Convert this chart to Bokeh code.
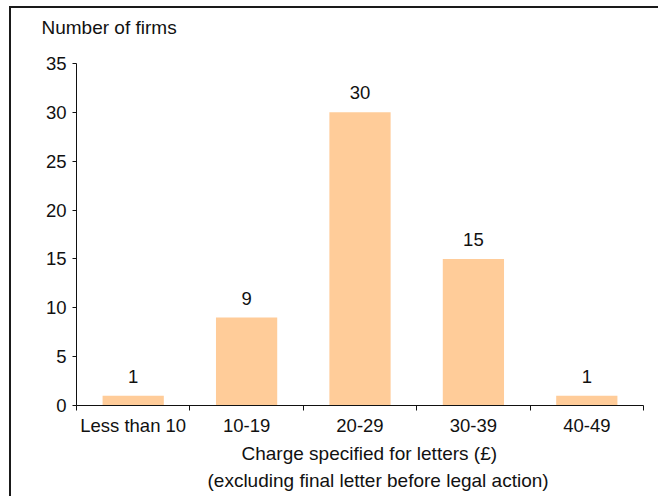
from bokeh.plotting import figure
from bokeh.models import Range1d, FixedTicker, LabelSet, Label, Title, ColumnDataSource
from bokeh.core.properties import value
from bokeh.embed import file_html
from bokeh.resources import INLINE

categories = ["Less than 10", "10-19", "20-29", "30-39", "40-49"]
firms = [1, 9, 30, 15, 1]
y_ticks = [0, 5, 10, 15, 20, 25, 30, 35]
y_title = "Number of firms"
x_title = ["Charge specified for letters (£)",
           "(excluding final letter before legal action)"]

FONT = "Liberation Sans"
SIZE = "18.5px"
TSIZE = "19px"
BAR = "#FFCC99"
INK = "#111111"

centers = [i + 0.5 for i in range(len(categories))]
bounds = list(range(len(categories) + 1))

src = ColumnDataSource(dict(x=centers, top=firms, label=[str(v) for v in firms]))

p = figure(width=649, height=490,
           x_range=Range1d(0, len(categories)),
           y_range=Range1d(y_ticks[0], y_ticks[-1]),
           output_backend="svg", toolbar_location=None,
           min_border_left=65, min_border_right=17,
           min_border_top=55, min_border_bottom=93)
p.styles = {"border-top": "2px solid #1a1a1a", "border-left": "2px solid #1a1a1a",
            "margin-top": "6px", "margin-left": "9px"}
p.outline_line_color = None
p.background_fill_color = "white"
p.border_fill_color = "white"
p.xgrid.visible = False
p.ygrid.visible = False

p.vbar(x="x", top="top", width=0.54, source=src, fill_color=BAR, line_color=None)

labels = LabelSet(x="x", y="top", text="label", source=src, y_offset=13,
                  text_align="center", text_baseline="alphabetic",
                  text_font=value(FONT), text_font_size=SIZE, text_color=INK)
p.add_layout(labels)

xa = p.xaxis[0]
xa.ticker = FixedTicker(ticks=centers, minor_ticks=bounds)
xa.major_label_overrides = {c: cat for c, cat in zip(centers, categories)}
xa.major_tick_out = 0
xa.major_tick_in = 0
xa.minor_tick_out = 5
xa.minor_tick_in = 0
xa.minor_tick_line_color = INK
xa.axis_line_color = INK
xa.major_label_standoff = 4
xa.major_label_text_font = FONT
xa.major_label_text_font_size = SIZE
xa.major_label_text_color = INK

ya = p.yaxis[0]
ya.ticker = FixedTicker(ticks=y_ticks)
ya.major_tick_out = 4
ya.major_tick_in = 0
ya.minor_tick_out = 0
ya.minor_tick_in = 0
ya.axis_line_color = INK
ya.major_tick_line_color = INK
ya.major_label_standoff = 6
ya.major_label_text_font = FONT
ya.major_label_text_font_size = SIZE
ya.major_label_text_color = INK

def mk_title(text, offset, standoff):
    return Title(text=text, align="left", offset=offset, standoff=standoff,
                 text_font=FONT, text_font_size=TSIZE, text_font_style="normal",
                 text_color=INK)

p.add_layout(Label(x=-35, y=35.7, x_units="screen", y_units="screen", text=y_title,
                   text_align="left", text_baseline="alphabetic",
                   text_font=FONT, text_font_size=TSIZE, text_color=INK), "above")
p.add_layout(mk_title(x_title[0], 165, 4), "below")
p.add_layout(mk_title(x_title[1], 131, 4), "below")

open("out.html", "w").write(file_html(p, INLINE))
